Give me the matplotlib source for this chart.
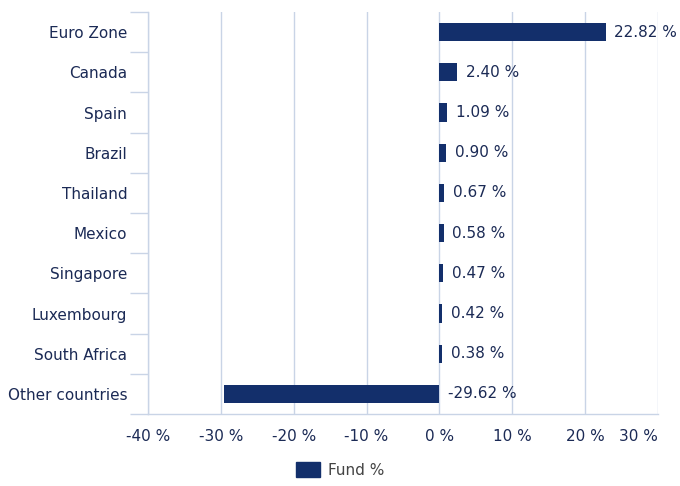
import numpy as np
import matplotlib.pyplot as plt
from matplotlib.patches import Patch

# country allocation, top to bottom
countries = ['Euro Zone', 'Canada', 'Spain', 'Brazil', 'Thailand', 'Mexico',
             'Singapore', 'Luxembourg', 'South Africa', 'Other countries']
fund = [22.82, 2.40, 1.09, 0.90, 0.67, 0.58, 0.47, 0.42, 0.38, -29.62]
xticks = [-40, -30, -20, -10, 0, 10, 20, 30]

navy = '#132f6b'
txt = '#1b2a55'
grid = '#c9d4e6'

plt.rcParams['font.family'] = ['DejaVu Sans']
plt.rcParams['font.size'] = 11

fig = plt.figure(figsize=(6.8, 4.86), dpi=100)
ax = fig.add_axes([148/680, 1 - 414/486, 510/680, 402/486])

y = np.arange(len(countries))
ax.barh(y, fund, height=0.45, color=navy, linewidth=0, zorder=3)

# value labels
for yi, v in zip(y, fund):
    xpos = max(v, 0) + 1.2
    ax.text(xpos, yi, f'{v:.2f} %', va='center', ha='left', color=txt, fontsize=11)

ax.set_xlim(-40, 30)
ax.set_ylim(len(countries) - 0.5, -0.5)
ax.set_xticks(xticks)
ax.set_xticklabels([f'{t} %' for t in xticks])
ax.xaxis.grid(True, color=grid, linewidth=1, zorder=0)
ax.tick_params(axis='x', length=0, pad=11, colors=txt)

# category labels centred, ticks on boundaries
ax.set_yticks(y)
ax.set_yticklabels(countries)
ax.set_yticks(np.arange(len(countries) + 1) - 0.5, minor=True)
ax.tick_params(axis='y', which='major', length=0, pad=15, colors=txt)
ax.tick_params(axis='y', which='minor', length=13, color=grid, width=1)

for s in ['top', 'right']:
    ax.spines[s].set_visible(False)
for s in ['left', 'bottom']:
    ax.spines[s].set_color(grid)
    ax.spines[s].set_linewidth(1)

# last tick label kept inside the figure
ax.get_xticklabels()[-1].set_horizontalalignment('right')

fig.legend(handles=[Patch(color=navy, label='Fund %')], loc='center',
           bbox_to_anchor=(0.5, 1 - 470/486), frameon=False, fontsize=11,
           handlelength=1.6, handleheight=1.1, handletextpad=0.5, labelcolor='#444444')

fig.savefig('out.png', dpi=100)
